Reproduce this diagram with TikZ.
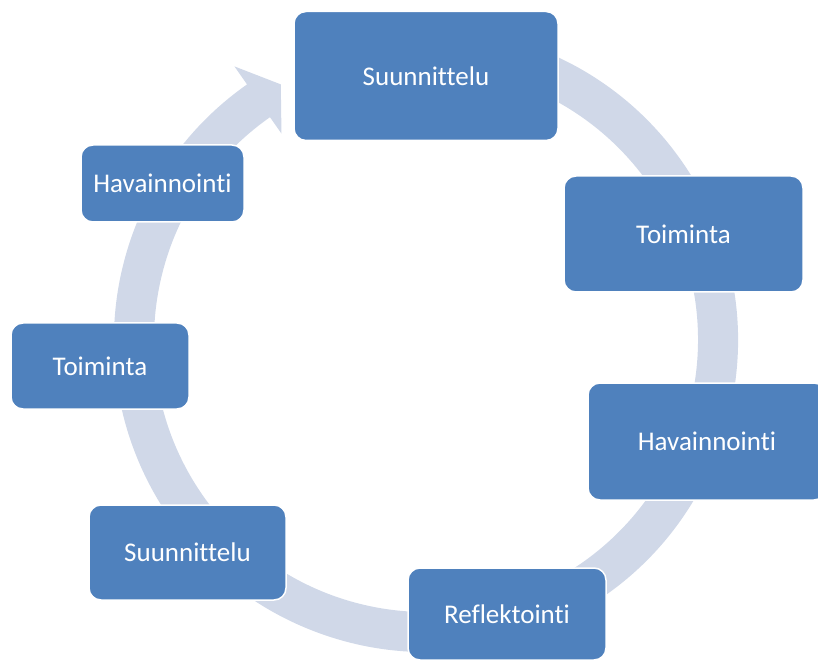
\documentclass[tikz,border=0pt]{standalone}
\usepackage{fontspec}
\setmainfont{Carlito}[Ligatures=NoCommon]
\usepackage{xcolor}
\usepackage{tikz}
\usetikzlibrary{positioning}

\definecolor{stepblue}{HTML}{4F81BD}
\definecolor{ringgray}{HTML}{D0D8E8}

\begin{document}
\begin{tikzpicture}[
    x=1pt, y=1pt,
    box/.style={rectangle, rounded corners=12pt, draw=white, line width=1.5pt, fill=stepblue,
        text=white, align=center, font=\fontsize{27}{32}\selectfont, inner sep=0pt},
    ring/.style={fill=ringgray, draw=none}
]
\useasboundingbox (0,0) rectangle (818,659);

% circular arrow behind the boxes
\coordinate (ctr) at (426,319);
\begin{scope}[shift={(ctr)}]
\path[ring] (70:312) arc[start angle=70, end angle=-235, radius=312]
    -- (125:334) -- (119.6:294) -- (125:252)
    -- (125:272) arc[start angle=-235, end angle=70, radius=272] -- cycle;
\end{scope}

% cycle steps
\node[box, minimum width=264pt, minimum height=129pt] (plan1) at (426,583) {Suunnittelu};
\node[box, minimum width=239pt, minimum height=116pt] (act1) at (683.5,425) {Toiminta};
\node[box, minimum width=238pt, minimum height=117pt] (obs1) at (707,217.5) {Havainnointi};
\node[box, minimum width=198pt, minimum height=92pt] (refl) at (507,45) {Reflektointi};
\node[box, minimum width=197pt, minimum height=95pt] (plan2) at (187.5,106.5) {Suunnittelu};
\node[box, minimum width=178pt, minimum height=86pt] (act2) at (100,293) {Toiminta};
\node[box, minimum width=163pt, minimum height=77pt] (obs2) at (162.5,475.5) {Havainnointi};
\end{tikzpicture}
\end{document}
